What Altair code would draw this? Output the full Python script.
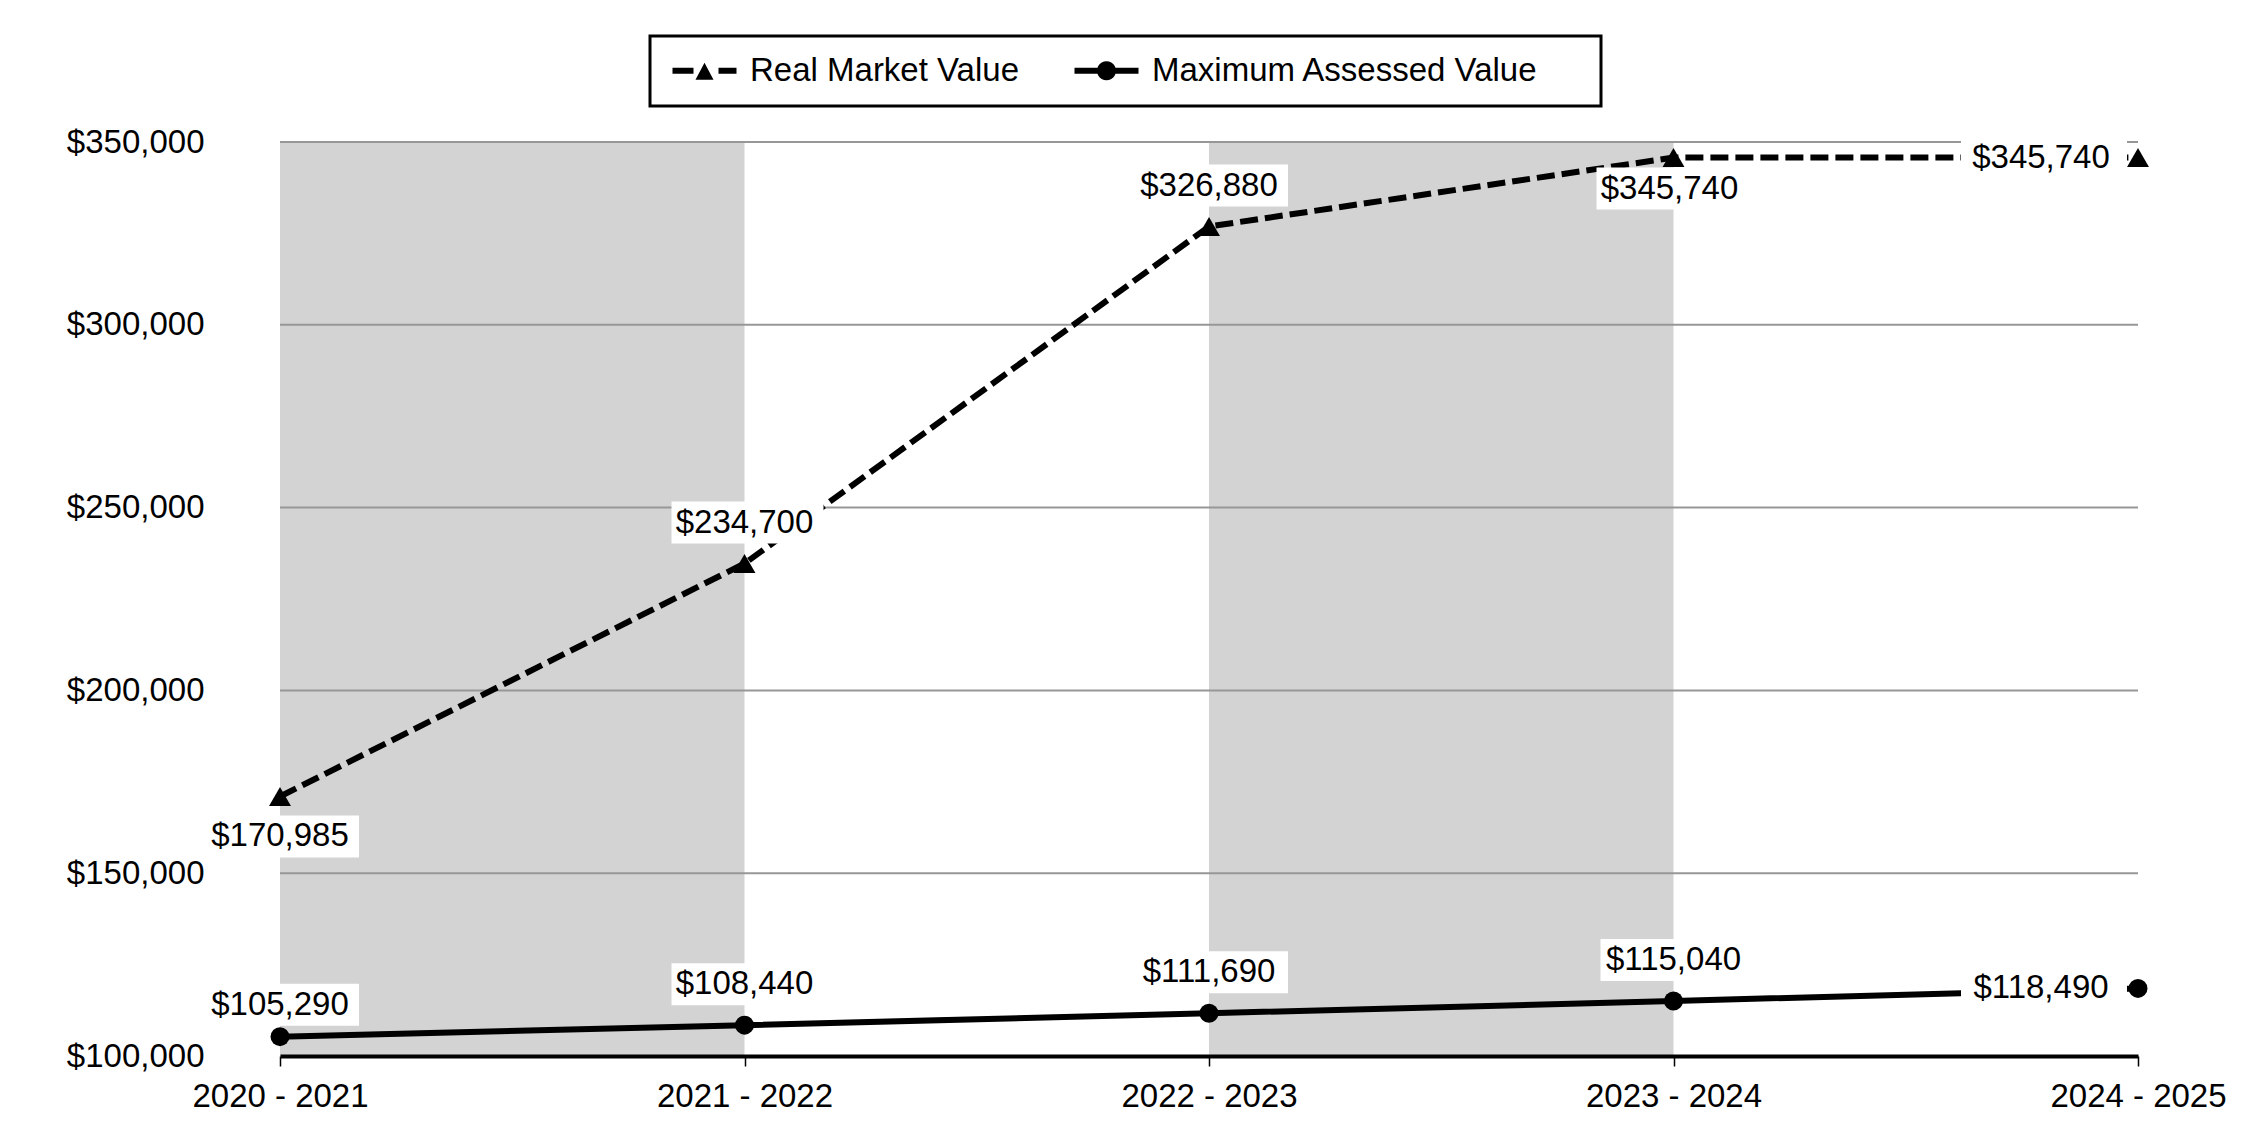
import json
import altair as alt
import pandas as pd

# ---------------- data ----------------
years = ["2020 - 2021", "2021 - 2022", "2022 - 2023", "2023 - 2024", "2024 - 2025"]
real_market_value = [170985, 234700, 326880, 345740, 345740]
max_assessed_value = [105290, 108440, 111690, 115040, 118490]
series_names = ["Real Market Value", "Maximum Assessed Value"]
rmv_label_pos = ["below", "above", "above", "below_near", "left"]
mav_label_pos = ["above_near", "above", "above", "above", "left"]
y_ticks = [100000, 150000, 200000, 250000, 300000, 350000]
band_start = ["2020 - 2021", "2022 - 2023"]
band_end = ["2021 - 2022", "2023 - 2024"]

# ---------------- tables ----------------
rows = []
for i, y in enumerate(years):
    rows.append({"idx": i, "year": y, "series": series_names[0],
                 "value": real_market_value[i], "pos": rmv_label_pos[i]})
    rows.append({"idx": i, "year": y, "series": series_names[1],
                 "value": max_assessed_value[i], "pos": mav_label_pos[i]})
df = pd.DataFrame(rows)

bands = pd.DataFrame({
    "start": [years.index(s) for s in band_start],
    "end": [years.index(e) for e in band_end],
    "lo": [min(y_ticks)] * len(band_start),
    "hi": [max(y_ticks)] * len(band_start),
})
grid = pd.DataFrame({"tick": y_ticks[1:]})

# ---------------- style ----------------
FONT = "Liberation Sans"
FS = 33
W, H = 1858, 914

# label placement offsets (pixels) : (dx, dy)
placements = {
    "above": (0, -41),
    "above_near": (0, -32),
    "below": (0, 40),
    "below_near": (-4, 31),
    "left": (-97, 0),
}
BOX_W, BOX_H = 152, 42
R = 100.0  # custom symbol half-size in px


def box_path(dx, dy, bw=BOX_W, bh=BOX_H):
    x0 = (dx + 3 - bw / 2) / R
    x1 = (dx + 3 + bw / 2) / R
    y0 = (dy - bh / 2) / R
    y1 = (dy + bh / 2) / R
    return f"M{x0:.4f},{y0:.4f}L{x1:.4f},{y0:.4f}L{x1:.4f},{y1:.4f}L{x0:.4f},{y1:.4f}Z"


x_scale = alt.Scale(domain=[0, len(years) - 1], nice=False, zero=False)
y_scale = alt.Scale(domain=[min(y_ticks), max(y_ticks)], nice=False, zero=False)

x_axis = alt.Axis(
    values=list(range(len(years))),
    labelExpr=json.dumps(years) + "[datum.value]",
    title=None, grid=False, domainColor="black", domainWidth=4,
    tickColor="black", tickWidth=1.5, tickSize=10, labelPadding=14,
    labelFontSize=FS, labelFont=FONT, labelColor="black", zindex=1,
    labelFlush=False, labelOverlap=False,
)
y_axis = alt.Axis(
    values=y_ticks, labelExpr="'$' + format(datum.value, ',')",
    title=None, grid=False, domain=False,
    ticks=False, tickSize=0, labelPadding=76, labelFontSize=FS,
    labelFont=FONT, labelColor="black",
)

X = alt.X("idx:Q", scale=x_scale, axis=x_axis)
Y = alt.Y("value:Q", scale=y_scale, axis=y_axis)

base = alt.Chart(df)

band_layer = alt.Chart(bands).mark_rect(color="#d3d3d3").encode(
    x=alt.X("start:Q", scale=x_scale, axis=x_axis),
    x2="end:Q",
    y=alt.Y("lo:Q", scale=y_scale, axis=y_axis),
    y2="hi:Q",
)

grid_layer = alt.Chart(grid).mark_rule(color="#979797", strokeWidth=2).encode(
    y=alt.Y("tick:Q", scale=y_scale, axis=y_axis)
)

mav_line = base.transform_filter(alt.datum.series == series_names[1]).mark_line(
    color="black", strokeWidth=6).encode(x=X, y=Y)
rmv_line = base.transform_filter(alt.datum.series == series_names[0]).mark_line(
    color="black", strokeWidth=6, strokeDash=[18, 7]).encode(x=X, y=Y)

rmv_pts = base.transform_filter(alt.datum.series == series_names[0]).mark_point(
    shape="triangle-up", filled=True, color="black", size=480, opacity=1
).encode(x=X, y=Y)
mav_pts = base.transform_filter(alt.datum.series == series_names[1]).mark_point(
    shape="circle", filled=True, color="black", size=360, opacity=1
).encode(x=X, y=Y)

box_layers = []
text_layers = []
for name, (dx, dy) in placements.items():
    bw = 166 if name == "left" else BOX_W
    box_layers.append(
        base.transform_filter(alt.datum.pos == name).mark_point(
            shape=box_path(dx, dy, bw), filled=True, fill="white", color="white",
            strokeWidth=0, size=(2 * R) ** 2, opacity=1,
        ).encode(x=X, y=Y)
    )
    text_layers.append(
        base.transform_filter(alt.datum.pos == name).mark_text(
            dx=dx, dy=dy, fontSize=FS, font=FONT, color="black",
            align="center", baseline="middle",
        ).encode(x=X, y=Y, text=alt.Text("value:Q", format="$,"))
    )

# legend symbols: dashed line + triangle, solid line + circle.
# symbol size 24px (r = 12), path drawn from x = -1 .. 4.333 (0..64 px)
SR = 12.0


def u(px):
    return f"{px / SR:.4f}"


def hbar(x0, x1, t=3.0):
    return f"M{u(x0)},{u(-t)}L{u(x1)},{u(-t)}L{u(x1)},{u(t)}L{u(x0)},{u(t)}Z"


cx = 32 - SR  # symbol centre relative to symbol origin
rmv_sym = (hbar(-SR, -SR + 21) + " " + hbar(-SR + 46, -SR + 64) + " "
           + f"M{u(cx)},{u(-8)}L{u(cx + 9)},{u(9)}L{u(cx - 9)},{u(9)}Z")
mav_sym = (hbar(-SR, -SR + 64) + " "
           + f"M{u(cx + 9.5)},0A{u(9.5)},{u(9.5)} 0 1,1 {u(cx - 9.5)},0"
           + f"A{u(9.5)},{u(9.5)} 0 1,1 {u(cx + 9.5)},0Z")

legend_layer = base.mark_point(filled=True, color="black", opacity=0, size=10).encode(
    x=X, y=Y,
    shape=alt.Shape(
        "series:N",
        scale=alt.Scale(domain=series_names, range=[rmv_sym, mav_sym]),
        legend=alt.Legend(
            title="\u00a0", titleOrient="right", titlePadding=45,
            titleFontSize=FS, titleFont=FONT,
            orient="none", direction="horizontal",
            legendX=370, legendY=-106, symbolSize=(2 * SR) ** 2, symbolOpacity=1,
            symbolFillColor="black", symbolStrokeWidth=0,
            labelFontSize=FS, labelFont=FONT, labelColor="black", labelLimit=0,
            labelOffset=49, columnPadding=50, padding=18,
            strokeColor="black", fillColor="white",
        ),
    ),
)

chart = alt.layer(
    band_layer, grid_layer, mav_line, rmv_line, rmv_pts, mav_pts,
    *box_layers, *text_layers, legend_layer,
).properties(
    width=W, height=H,
    autosize=alt.AutoSizeParams(type="none"),
    padding={"left": 272, "top": 134, "right": 90, "bottom": 76},
).configure_view(stroke=None).configure_legend(strokeWidth=3)

chart.save("out.html", embed_options={"renderer": "svg", "actions": False})
